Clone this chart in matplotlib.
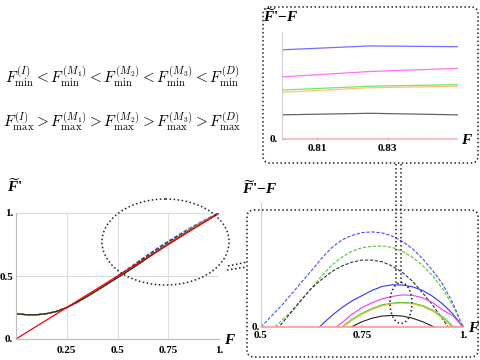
import numpy as np
import matplotlib.pyplot as plt
from matplotlib.patches import Ellipse, FancyBboxPatch

plt.rcParams['mathtext.fontset'] = 'custom'
plt.rcParams['mathtext.it'] = 'Liberation Serif:italic:bold'
plt.rcParams['mathtext.rm'] = 'Liberation Serif:bold'
plt.rcParams['mathtext.bf'] = 'Liberation Serif:bold'

# F grid and the common part of F~' - F for F < 0.5
F_low = [0, 0.05, 0.1, 0.15, 0.2, 0.25, 0.3, 0.35, 0.4, 0.45]
d_low = [0.2, 0.143, 0.092, 0.051, 0.019, 0, -0.009, -0.013, -0.014, -0.013]

F_high = [0.5, 0.525, 0.55, 0.575, 0.6, 0.625, 0.65, 0.675, 0.7, 0.725, 0.75,
          0.775, 0.8, 0.825, 0.85, 0.875, 0.9, 0.925, 0.95, 0.975, 1.0]

# F~' - F for F >= 0.5
d_blue_dash = [0, 0.003, 0.006, 0.0093, 0.0127, 0.016, 0.0195, 0.0225, 0.0247, 0.026, 0.0268,
               0.027, 0.0267, 0.0258, 0.0243, 0.0222, 0.0194, 0.016, 0.0121, 0.0068, 0]
d_green_dash = [-0.004, -0.001, 0.0017, 0.0045, 0.0077, 0.011, 0.0145, 0.0175, 0.0198, 0.0215, 0.0225,
                0.0229, 0.023, 0.0226, 0.0215, 0.0198, 0.0175, 0.0145, 0.0108, 0.006, 0]
d_black_dash = [-0.006, -0.0025, 0.0008, 0.0042, 0.0077, 0.011, 0.0135, 0.0157, 0.0173, 0.0184, 0.019,
                0.019, 0.0185, 0.0173, 0.0155, 0.013, 0.0097, 0.0062, 0.0022, -0.002, 0]
d_blue = [-0.012, -0.0115, -0.010, -0.0078, -0.005, -0.002, 0.0006, 0.0032, 0.0055, 0.0074, 0.0089,
          0.0104, 0.0115, 0.012, 0.0119, 0.0114, 0.0104, 0.0087, 0.0065, 0.0037, 0]
d_magenta = [-0.013, -0.0127, -0.0117, -0.0102, -0.0083, -0.006, -0.0036, -0.0011, 0.0012, 0.0036, 0.0055,
             0.0069, 0.008, 0.0087, 0.0091, 0.009, 0.0083, 0.0069, 0.0048, 0.0032, 0]
d_green = [-0.013, -0.0128, -0.012, -0.0105, -0.0087, -0.0065, -0.0041, -0.0018, 0.0, 0.0022, 0.0039,
           0.0053, 0.0063, 0.0068, 0.007, 0.0068, 0.0061, 0.0048, 0.0029, 0.0002, 0]
d_orange = [-0.013, -0.0129, -0.0122, -0.0108, -0.009, -0.0068, -0.0045, -0.0022, -0.0003, 0.0019, 0.0036,
            0.005, 0.006, 0.0066, 0.0068, 0.0066, 0.0058, 0.0045, 0.0025, -0.0003, 0]
d_black = [-0.014, -0.0138, -0.0131, -0.0118, -0.0099, -0.0076, -0.0051, -0.0027, -0.0011, 0.0001, 0.0015,
           0.0025, 0.0031, 0.0033, 0.0031, 0.0025, 0.0015, 0.0002, -0.0012, -0.0015, 0]

dashed = [(d_blue_dash, '#4a4aff'), (d_green_dash, '#55c233'), (d_black_dash, '#333333')]
solid = [(d_blue, '#3333ff'), (d_magenta, '#ff33ff'), (d_green, '#33dd33'),
         (d_orange, '#ffaa33'), (d_black, '#222222')]

F_all = np.array(F_low + F_high)
tick_font = dict(family='Liberation Serif', weight='bold', size=8)

fig = plt.figure(figsize=(4.8, 3.6), dpi=100)

# ---- left plot: F~' vs F
ax = fig.add_axes([16/480, 21/360, 203/480, 126/360])
for d, c in dashed:
    ax.plot(F_all, F_all + np.array(d_low + d), color=c, lw=0.9, dashes=(3, 1.5))
for d, c in solid:
    ax.plot(F_all, F_all + np.array(d_low + d), color=c, lw=0.8)
ax.plot(F_all, F_all, color='red', lw=0.9)
ax.set_xlim(0, 1)
ax.set_ylim(0, 1)
ax.set_xticks([0.25, 0.5, 0.75, 1.0])
ax.set_xticklabels(['0.25', '0.5', '0.75', '1.'], fontdict=tick_font)
ax.set_yticks([0, 0.5, 1.0])
ax.set_yticklabels(['0.', '0.5', '1.'], fontdict=tick_font)
ax.tick_params(length=0, pad=2)
ax.tick_params(axis='x', pad=5)
ax.grid(True, color='#dddddd', lw=0.8)
for s in ['top', 'right']:
    ax.spines[s].set_visible(False)
for s in ['left', 'bottom']:
    ax.spines[s].set_color('#bbbbbb')
ax.patch.set_alpha(0)

# ---- right plot: F~' - F vs F
F_hi = np.array(F_high)
ax2 = fig.add_axes([261/480, 33/360, 202/480, 124/360])
for d, c in dashed:
    ax2.plot(F_hi, d, color=c, lw=0.8, dashes=(3, 1.5))
for d, c in solid:
    ax2.plot(F_hi, d, color=c, lw=0.8)
ax2.plot(F_hi, F_hi - F_hi, color='#ff9999', lw=1.2, clip_on=False)
ax2.axvline(1.0, color='#cccccc', lw=0.8)
ax2.set_xlim(0.5, 1)
ax2.set_ylim(0, 0.0352)
ax2.set_xticks([0.5, 0.75, 1.0])
ax2.set_xticklabels(['0.5', '0.75', '1.'], fontdict=tick_font)
ax2.set_yticks([0])
ax2.set_yticklabels(['0.'], fontdict=tick_font)
ax2.tick_params(length=2, direction='in', color='#bbbbbb', pad=1)
ax2.tick_params(axis='x', pad=3)
for s in ['top', 'right', 'bottom']:
    ax2.spines[s].set_visible(False)
ax2.spines['left'].set_color('#cccccc')
ax2.patch.set_alpha(0)

# ---- inset: zoom around F = 0.82
ax3 = fig.add_axes([282/480, 220/360, 176/480, 108/360])
for d, c in solid:
    ax3.plot(F_hi, d, color=c, lw=0.9, alpha=0.7)
ax3.plot(F_hi, F_hi - F_hi, color='#ff9999', lw=1.5, alpha=0.6)
ax3.set_xlim(0.80, 0.85)
ax3.set_ylim(-0.00015, 0.0138)
ax3.set_xticks([0.81, 0.83])
ax3.set_xticklabels(['0.81', '0.83'], fontdict=tick_font)
ax3.set_yticks([0])
ax3.set_yticklabels(['0.'], fontdict=tick_font)
ax3.tick_params(length=2, direction='in', color='#bbbbbb', pad=3)
for s in ['top', 'right', 'bottom']:
    ax3.spines[s].set_visible(False)
ax3.spines['left'].set_color('#cccccc')
ax3.spines['left'].set_bounds(0, 0.0138)
ax3.patch.set_alpha(0)

# ---- overlay in pixel coordinates for texts and dotted decorations
ov = fig.add_axes([0, 0, 1, 1], zorder=10)
ov.set_xlim(0, 480)
ov.set_ylim(360, 0)
ov.axis('off')
ov.patch.set_alpha(0)

dot = dict(ls=':', lw=1.1, color='#222222')
ov.add_patch(FancyBboxPatch((263, 7), 215, 156, boxstyle='round,pad=0,rounding_size=7',
                            fill=False, **dot))
ov.add_patch(FancyBboxPatch((247, 210), 231, 147, boxstyle='round,pad=0,rounding_size=7',
                            fill=False, **dot))
ov.add_patch(Ellipse((165.5, 242), 127, 86, fill=False, **dot))
ov.add_patch(Ellipse((401, 303), 22, 41, fill=False, **dot))
ov.plot([396, 396], [164, 283], **dot)
ov.plot([401, 401], [164, 283], **dot)
ov.plot([228, 247], [266, 262], **dot)
ov.plot([227, 247], [270, 267], **dot)

lab = dict(fontsize=11, ha='center', va='center')
ov.text(230, 339, r'$F$', **lab)
ov.text(474, 328, r'$F$', **lab)
ov.text(467, 140, r'$F$', **lab)
ov.text(7, 186, r"$\widetilde{F}$'", ha='left', va='center', fontsize=11,
        family='Liberation Serif', weight='bold')
ov.text(242, 188, r"$\widetilde{F}$'$-F$", ha='left', va='center', fontsize=11,
        family='Liberation Serif', weight='bold')
ov.text(263, 16, r"$\widetilde{F}$'$-F$", ha='left', va='center', fontsize=11,
        family='Liberation Serif', weight='bold')

row1 = (r'$F_{\min}^{(I)} < F_{\min}^{(M_1)} < F_{\min}^{(M_2)} < '
        r'F_{\min}^{(M_3)} < F_{\min}^{(D)}$')
row2 = (r'$F_{\max}^{(I)} > F_{\max}^{(M_1)} > F_{\max}^{(M_2)} > '
        r'F_{\max}^{(M_3)} > F_{\max}^{(D)}$')
ov.text(122, 77, row1, ha='center', va='center', fontsize=11, math_fontfamily='cm')
ov.text(122, 122, row2, ha='center', va='center', fontsize=11, math_fontfamily='cm')

fig.savefig('out.png', dpi=100)
